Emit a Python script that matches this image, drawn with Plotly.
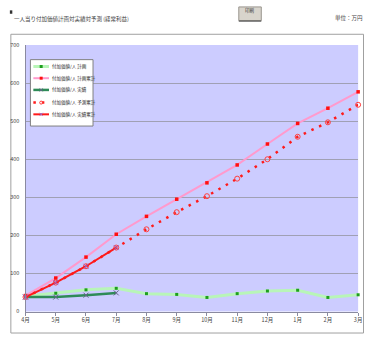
import plotly.graph_objects as go

W, H = 368, 338

# ---- data (万円) ----
months = ["4月", "5月", "6月", "7月", "8月", "9月", "10月", "11月", "12月", "1月", "2月", "3月"]
plan_monthly = [40, 48, 57, 61, 47, 45, 37, 47, 54, 56, 37, 44]
plan_cumulative = [42, 88, 143, 203, 250, 295, 338, 385, 440, 494, 534, 577]
actual_monthly = [38, 38, 43, 49]
actual_cumulative = [38, 76, 119, 168]
forecast_cumulative = [38, 76, 119, 168, 216, 261, 303, 349, 400, 459, 497, 543]
y_ticks = [0, 100, 200, 300, 400, 500, 600, 700]

series_names = [
    "付加価値/人 計画",
    "付加価値/人 計画累計",
    "付加価値/人 実績",
    "付加価値/人 予測累計",
    "付加価値/人 実績累計",
]

FONT = "Noto Sans CJK JP"


def px(x):
    return x / W


def py(y):
    return 1 - y / H


idx = list(range(len(months)))

styles = [
    dict(line=dict(color="#B8F5B8", width=3),
         marker=dict(symbol="square", size=3, color="#1E9E1E")),
    dict(line=dict(color="#FF9ACD", width=2),
         marker=dict(symbol="square", size=3.5, color="#FF1010")),
    dict(line=dict(color="#2E8B57", width=2.5),
         marker=dict(symbol="x-thin", size=5, line=dict(color="#666688", width=1))),
    dict(line=dict(color="#FF1A1A", width=2.5, dash="2.5px,6px"),
         marker=dict(symbol="circle-open", size=5, color="#FF4040", line=dict(width=1))),
    dict(line=dict(color="#FF1A1A", width=2),
         marker=dict(symbol="x-thin", size=5, line=dict(color="#9966CC", width=1))),
]

series_values = [plan_monthly, plan_cumulative, actual_monthly,
                 forecast_cumulative, actual_cumulative]

fig = go.Figure()
for name, vals, st in zip(series_names, series_values, styles):
    fig.add_trace(go.Scatter(
        x=idx[:len(vals)], y=vals, name=name, mode="lines+markers",
        line=st["line"], marker=st["marker"], cliponaxis=False,
        showlegend=False, hoverinfo="skip"))

# ---- compact legend drawn on a pixel-space overlay ----
leg_x0, leg_y0, leg_x1, leg_y1 = 27, 57, 91, 125
row_y = [64, 76, 88, 101, 113]
fig.add_trace(go.Scatter(
    x=[leg_x0, leg_x1, leg_x1, leg_x0, leg_x0],
    y=[leg_y0, leg_y0, leg_y1, leg_y1, leg_y0],
    xaxis="x2", yaxis="y2", mode="lines", fill="toself", fillcolor="white",
    line=dict(color="#808080", width=1), showlegend=False, hoverinfo="skip"))
annotations = []
for name, st, ry in zip(series_names, styles, row_y):
    fig.add_trace(go.Scatter(
        x=[30, 46], y=[ry, ry], xaxis="x2", yaxis="y2", mode="lines",
        line=dict(color=st["line"]["color"], width=st["line"]["width"],
                  dash=st["line"].get("dash", "solid")),
        showlegend=False, hoverinfo="skip"))
    mk = dict(st["marker"])
    mk["size"] = 3
    fig.add_trace(go.Scatter(
        x=[38], y=[ry], xaxis="x2", yaxis="y2", mode="markers",
        marker=mk, showlegend=False, hoverinfo="skip"))
    annotations.append(dict(
        x=px(47.5), y=py(ry), xref="paper", yref="paper", text=name,
        showarrow=False, xanchor="left", yanchor="middle",
        font=dict(family=FONT, size=4.5, color="#222222")))

shapes = [
    # outer frame of the chart object
    dict(type="rect", xref="paper", yref="paper", x0=px(7), x1=px(367.5),
         y0=py(337), y1=py(31), line=dict(color="#A0A0A0", width=1), layer="below"),
    # plot area fill
    dict(type="rect", xref="paper", yref="paper", x0=px(22), x1=px(362),
         y0=py(315), y1=py(42), fillcolor="#CCCCFF", line=dict(width=0),
         layer="below"),
    # print button
    dict(type="rect", xref="paper", yref="paper", x0=px(240), x1=px(263),
         y0=py(17), y1=py(3), fillcolor="#D8D4CC",
         line=dict(color="#9A968E", width=1)),
    dict(type="line", xref="paper", yref="paper", x0=px(240), x1=px(263),
         y0=py(17.5), y1=py(17.5), line=dict(color="#555555", width=1.2)),
    # small bullet before the title
    dict(type="rect", xref="paper", yref="paper", x0=px(6), x1=px(8.5),
         y0=py(10), y1=py(6.5), fillcolor="#333333", line=dict(width=0)),
]

annotations += [
    dict(x=px(8.5), y=py(15), xref="paper", yref="paper",
         text="一人当り付加価値計画対実績対予測 (経常利益)", showarrow=False,
         xanchor="left", yanchor="middle",
         font=dict(family=FONT, size=5.5, color="#444444")),
    dict(x=px(336), y=py(14), xref="paper", yref="paper",
         text="単位：万円", showarrow=False, xanchor="left", yanchor="middle",
         font=dict(family=FONT, size=5.5, color="#444444")),
    dict(x=px(251.5), y=py(7), xref="paper", yref="paper",
         text="印刷", showarrow=False, xanchor="center", yanchor="middle",
         font=dict(family=FONT, size=4.5, color="#333333")),
]

fig.update_layout(
    width=W, height=H, autosize=False,
    margin=dict(l=0, r=0, t=0, b=0),
    paper_bgcolor="white", plot_bgcolor="rgba(0,0,0,0)",
    font=dict(family=FONT, size=5.5, color="#444444"),
    shapes=shapes, annotations=annotations,
    xaxis=dict(
        domain=[px(22), px(362)], range=[0, len(months) - 1],
        tickmode="array", tickvals=idx, ticktext=months,
        showgrid=False, zeroline=False,
        showline=True, linecolor="#8A8AA0", linewidth=1,
        ticks="outside", ticklen=3, tickcolor="#8A8AA0",
        tickfont=dict(size=5.5, family=FONT, color="#444444"),
        fixedrange=True,
    ),
    yaxis=dict(
        domain=[py(315), py(42)], range=[0, 700],
        tickmode="array", tickvals=y_ticks, ticktext=[str(v) for v in y_ticks],
        showgrid=True, gridcolor="#A0A0B4", gridwidth=1,
        zeroline=False, showline=True, linecolor="#8A8AA0", linewidth=1,
        ticks="", ticklabelstandoff=4,
        tickfont=dict(size=5.5, family=FONT, color="#444444"),
        fixedrange=True,
    ),
    xaxis2=dict(domain=[0, 1], range=[0, W], visible=False, fixedrange=True),
    yaxis2=dict(domain=[0, 1], range=[H, 0], visible=False, fixedrange=True),
)

fig.write_html("out.html", config={"displayModeBar": False})
